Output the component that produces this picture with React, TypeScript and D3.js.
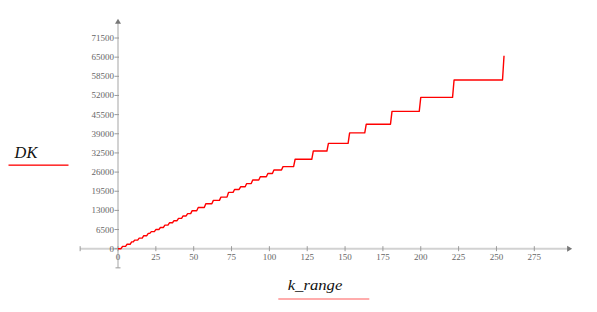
import React from "react";
import * as d3 from "d3";

const kSteps = [0, 3, 6, 9, 11, 14, 17, 20, 22, 25, 28, 31, 34, 37, 40, 43, 46, 49, 53, 58, 63, 68, 73, 77, 81, 85, 89, 94, 99, 103, 109, 117, 129, 139, 153, 164, 181, 200, 222, 255];
const dkSteps = [0, 800, 1500, 2300, 2900, 3600, 4400, 5200, 5800, 6500, 7200, 8000, 8800, 9500, 10300, 11100, 11900, 12900, 14000, 15250, 16400, 17500, 19100, 20100, 21000, 22100, 23300, 24400, 25500, 26700, 27850, 30350, 33150, 35750, 39300, 42250, 46600, 51350, 57250, 65500];

const xTicks = [0, 25, 50, 75, 100, 125, 150, 175, 200, 225, 250, 275];
const yTicks = [0, 6500, 13000, 19500, 26000, 32500, 39000, 45500, 52000, 58500, 65000, 71500];

const xLabel = "k_range";
const yLabel = "DK";

export default function App() {
  const x = d3.scaleLinear().domain([0, 275]).range([118, 534.3]);
  const y = d3.scaleLinear().domain([0, 71500]).range([248.7, 38]);

  const pts: [number, number][] = [];
  kSteps.forEach((k, i) => {
    if (i > 0) pts.push([k - 1, dkSteps[i - 1]]);
    pts.push([k, dkSteps[i]]);
  });
  const line = d3
    .line<[number, number]>()
    .x((d) => x(d[0]))
    .y((d) => y(d[1]));

  const x0 = x(0);
  const y0 = y(0);
  const xMin = x(-25);
  const xMax = x(300);
  const yMin = y(-6500);
  const yMax = y(78000);
  const axisColor = "#d2d2d2";
  const tickColor = "#9a9a9a";
  const labelColor = "#666";
  const serif: React.CSSProperties = { fontFamily: "Liberation Serif, DejaVu Serif, Times New Roman, serif" };
  const serifItalic: React.CSSProperties = { ...serif, fontStyle: "italic" };

  return (
    <div style={{ position: "absolute", left: 0, top: 0 }}>
      <svg width={597} height={312} style={{ display: "block", background: "#fff" }}>
        <line x1={xMin} x2={xMax - 3} y1={y0} y2={y0} stroke={axisColor} strokeWidth={2} />
        <line x1={x0} x2={x0} y1={yMin} y2={yMax + 3} stroke={axisColor} strokeWidth={2} />
        <path d={`M${xMax},${y0} L${xMax - 5},${y0 - 3} L${xMax - 5},${y0 + 3} Z`} fill="#777" />
        <path d={`M${x0},${yMax} L${x0 - 3},${yMax + 5} L${x0 + 3},${yMax + 5} Z`} fill="#777" />
        <line x1={xMin} x2={xMin} y1={y0 - 2.5} y2={y0 + 2.5} stroke={tickColor} strokeWidth={1} />
        <line x1={x0 - 2.5} x2={x0 + 2.5} y1={yMin} y2={yMin} stroke={tickColor} strokeWidth={1} />
        {xTicks.map((t) => (
          <g key={"x" + t}>
            <line x1={x(t)} x2={x(t)} y1={y0 - 2.5} y2={y0 + 2.5} stroke={tickColor} strokeWidth={1} />
            <text x={x(t)} y={y0 + 11} textAnchor="middle" fontSize={9} style={serif} fill={labelColor}>
              {t}
            </text>
          </g>
        ))}
        {yTicks.map((t) => (
          <g key={"y" + t}>
            <line x1={x0 - 3.5} x2={x0 + 1} y1={y(t)} y2={y(t)} stroke={tickColor} strokeWidth={1} />
            <text x={x0 - 4} y={y(t)} dy="0.33em" textAnchor="end" fontSize={9} style={serif} fill={labelColor}>
              {t}
            </text>
          </g>
        ))}
        <path d={line(pts) || ""} fill="none" stroke="#ff0000" strokeWidth={1.4} strokeLinejoin="round" />
        <text x={14.6} y={158} fontSize={17} style={serifItalic} fill="#111" textLength={22.7} lengthAdjust="spacingAndGlyphs">
          {yLabel}
        </text>
        <rect x={8.5} y={164.5} width={60} height={1.3} fill="#ff0000" />
        <text x={287.7} y={290} fontSize={15} style={serifItalic} fill="#111" textLength={54.6} lengthAdjust="spacingAndGlyphs">
          {xLabel}
        </text>
        <rect x={278.3} y={298.5} width={91} height={1} fill="#ff5a5a" />
      </svg>
    </div>
  );
}
